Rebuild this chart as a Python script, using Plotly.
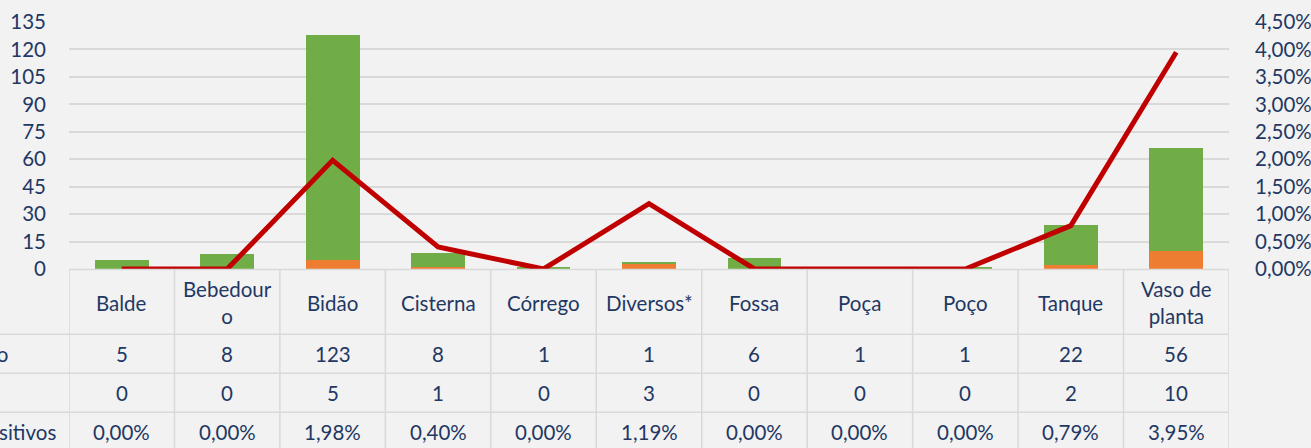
import plotly.graph_objects as go

categories = ["Balde", "Bebedouro", "Bidão", "Cisterna", "Córrego", "Diversos*",
              "Fossa", "Poça", "Poço", "Tanque", "Vaso de planta"]
header_labels = ["Balde", "Bebedour<br>o", "Bidão", "Cisterna", "Córrego", "Diversos*",
                 "Fossa", "Poça", "Poço", "Tanque", "Vaso de<br>planta"]
negativo = [5, 8, 123, 8, 1, 1, 6, 1, 1, 22, 56]
positivo = [0, 0, 5, 1, 0, 3, 0, 0, 0, 2, 10]
pct_positivos = [0.0, 0.0, 1.98, 0.40, 0.0, 1.19, 0.0, 0.0, 0.0, 0.79, 3.95]
row_labels = ["Negativo", "Positivo", "% Positivos"]

W, H = 1311, 448
L, R, T, B = 69, 82, 22, 178.5
plot_h = H - T - B
plot_w = W - L - R

def py(pix):
    return (H - B - pix) / plot_h

def px(pix):
    return (pix - L) / plot_w

NAVY = "#1F3864"
GRID = "#D9D9D9"
FONT = "Lato"
FS = 20.5

x = list(range(len(categories)))
fig = go.Figure()
fig.add_trace(go.Bar(x=x, y=positivo, name="Positivo", marker_color="#ED7D31",
                     marker_line_width=0))
fig.add_trace(go.Bar(x=x, y=negativo, name="Negativo", marker_color="#70AD47",
                     marker_line_width=0))
fig.add_trace(go.Scatter(x=x, y=[v / 100 for v in pct_positivos], yaxis="y2",
                         mode="lines", line=dict(color="#C00000", width=5),
                         name="% Positivos"))

shapes = []
annotations = []
table_top, hdr_bot, r1_bot, r2_bot, tbl_bot = 270, 335, 374, 413, 455
shapes.append(dict(type="line", xref="x", yref="paper", x0=-0.5, x1=10.5,
                   y0=py(table_top), y1=py(table_top), line=dict(color=GRID, width=1.5)))
for yy in (hdr_bot, r1_bot, r2_bot):
    shapes.append(dict(type="line", xref="paper", yref="paper", x0=px(0), x1=1,
                       y0=py(yy), y1=py(yy), line=dict(color=GRID, width=1.5)))
for i in range(len(categories) + 1):
    shapes.append(dict(type="line", xref="x", yref="paper", x0=i - 0.5, x1=i - 0.5,
                       y0=py(table_top), y1=py(tbl_bot), line=dict(color=GRID, width=1.5)))

row_centers = [(hdr_bot + r1_bot) / 2, (r1_bot + r2_bot) / 2, (r2_bot + 452) / 2]
for i in x:
    annotations.append(dict(x=i, y=py((table_top + hdr_bot) / 2 + 1), xref="x", yref="paper",
                            xanchor="center", yanchor="middle",
                            text=header_labels[i], showarrow=False,
                            font=dict(family=FONT, size=FS, color=NAVY)))
    vals = [str(negativo[i]), str(positivo[i]), f"{pct_positivos[i]:.2f}".replace(".", ",") + "%"]
    for r, v in enumerate(vals):
        annotations.append(dict(x=i, y=py(row_centers[r]), xref="x", yref="paper",
                                xanchor="center", yanchor="middle",
                                text=v, showarrow=False,
                                font=dict(family=FONT, size=FS, color=NAVY)))
label_right = [10, -2, 58]
for r, lab in enumerate(row_labels):
    annotations.append(dict(x=px(label_right[r]), y=py(row_centers[r]), xref="paper", yref="paper",
                            xanchor="right", yanchor="middle", text=lab, showarrow=False,
                            font=dict(family=FONT, size=FS, color=NAVY)))

fig.update_layout(
    width=W, height=H, autosize=False,
    margin=dict(l=L, r=R, t=T, b=B, pad=0, autoexpand=False),
    paper_bgcolor="#F2F2F2", plot_bgcolor="#F2F2F2",
    barmode="stack", bargap=0.49, showlegend=False,
    separators=",.",
    font=dict(family=FONT, size=FS, color=NAVY),
    xaxis=dict(range=[-0.5, 10.5], showticklabels=False, showgrid=False,
               zeroline=False, showline=False, fixedrange=True, automargin=False),
    yaxis=dict(range=[0, 135], dtick=15, tick0=0, showgrid=True, gridcolor=GRID,
               gridwidth=1.5, zeroline=False, showline=False, automargin=False,
               ticklabelstandoff=22, tickfont=dict(family=FONT, size=FS, color=NAVY)),
    yaxis2=dict(range=[0, 0.045], dtick=0.005, tick0=0, overlaying="y", side="right",
                showgrid=False, zeroline=False, showline=False, tickformat=".2%",
                automargin=False,
                ticklabelstandoff=25, tickfont=dict(family=FONT, size=FS, color=NAVY)),
    shapes=shapes, annotations=annotations,
)

fig.write_html("out.html", config={"displayModeBar": False},
               post_script="document.body.style.margin='0';document.body.style.background='#F2F2F2';")
